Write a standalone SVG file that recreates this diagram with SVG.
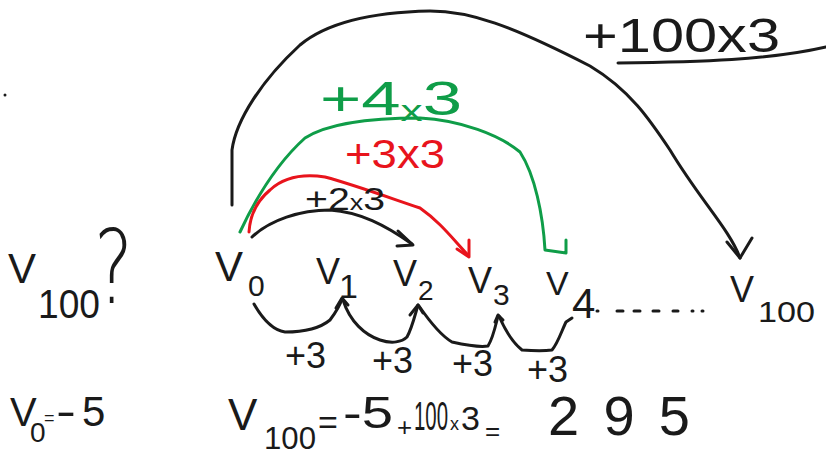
<svg xmlns="http://www.w3.org/2000/svg" width="826" height="457" viewBox="0 0 826 457">
<style>
text{font-family:"Liberation Sans","DejaVu Sans",sans-serif;fill:#1a1a1a}
.k{stroke:#1a1a1a}.g{stroke:#0f9d48}.r{stroke:#e8141c}
path{fill:none;stroke-width:3;stroke-linecap:round;stroke-linejoin:round}
.gt{fill:#0f9d48}.rt{fill:#e8141c}
.thin{font-family:"DejaVu Sans","Liberation Sans",sans-serif;font-weight:200}
</style>
<rect width="826" height="457" fill="#fff"/>
<circle cx="5" cy="95" r="1.5" fill="#1a1a1a"/>
<g id="connectors">
  <path class="k" d="M232,205 L232,150 C236,120 262,80 300,45 C330,20 380,12 430,11 C470,11 510,25 590,66 C630,90 650,120 670,150 C700,200 730,230 740,258"/>
  <path class="k" d="M727,242 L740,258 L752,238"/>
  <path class="g" d="M240,232 C255,200 275,165 305,138 C330,122 380,118 420,118 C460,120 500,135 520,152 C535,175 543,215 545,250 L566,253 L566,240"/>
  <path class="r" d="M249,232 C250,215 258,200 270,190 C285,176 305,174 325,177 C355,185 390,198 420,208 C440,222 452,238 468,255"/>
  <path class="r" d="M457,249 L469,257 L469,240"/>
  <path class="k" d="M252,237 C270,220 300,210 330,210 C360,212 385,225 412,244"/>
  <path class="k" d="M398,231 L413,245 L397,246"/>
  <path class="k" d="M254,304 C262,318 272,330 285,332 C300,332 318,330 330,320 C336,312 340,305 342,299"/>
  <path class="k" d="M336,308 L342,298 L348,305"/>
  <path class="k" d="M343,300 C350,322 365,335 380,340 C392,344 402,342 407,337 C412,328 415,315 418,305"/>
  <path class="k" d="M410,315 L418,305 L423,313"/>
  <path class="k" d="M419,306 C430,322 440,335 452,342 C470,346 482,347 488,346 C493,338 495,328 498,316"/>
  <path class="k" d="M495,322 L498,315 L503,320"/>
  <path class="k" d="M499,316 C505,330 512,342 522,350 C535,351 545,351 552,350 C558,343 562,330 566,322 L572,318"/>
  <path class="k" d="M618,63 C700,62 770,60 826,47"/>
</g>
<g id="labels">
  <text x="583" y="52" font-size="48" textLength="197" lengthAdjust="spacingAndGlyphs">+100x3</text>
  <text class="gt" x="320" y="115" font-size="48" textLength="142" lengthAdjust="spacingAndGlyphs">+4<tspan font-size="30" dy="6">x</tspan><tspan dy="-6">3</tspan></text>
  <text class="rt" x="345" y="168" font-size="40" textLength="100" lengthAdjust="spacingAndGlyphs">+3x3</text>
  <text x="305" y="210" font-size="32" textLength="80" lengthAdjust="spacingAndGlyphs">+2<tspan font-size="22">x</tspan>3</text>
  <text x="285" y="368" font-size="36">+3</text>
  <text x="372" y="373" font-size="36">+3</text>
  <text x="452" y="376" font-size="36">+3</text>
  <text x="527" y="382" font-size="36">+3</text>
</g>
<g id="v100q">
  <text x="8" y="283" font-size="42">V<tspan x="38" y="318" font-size="40" textLength="62" lengthAdjust="spacingAndGlyphs">100</tspan></text>
  <text class="thin" transform="translate(94,303) scale(1.05,1.45)" font-size="70">?</text>
</g>
<g id="v0"><text x="215" y="281" font-size="42">V<tspan x="248" y="296" font-size="30">0</tspan></text></g>
<g id="v1"><text x="316" y="284" font-size="36">V<tspan x="339" y="298" font-size="34">1</tspan></text></g>
<g id="v2"><text x="393" y="286" font-size="36">V<tspan x="418" y="300" font-size="28">2</tspan></text></g>
<g id="v3"><text x="468" y="293" font-size="36">V<tspan x="493" y="305" font-size="30">3</tspan></text></g>
<g id="v4"><text x="546" y="295" font-size="34">V<tspan x="572" y="318" font-size="42">4</tspan></text></g>
<g id="ellipsis">
  <path class="k" d="M597,311 L598,311 M617,311 L623,311 M634,311 L640,311 M653,311 L659,311 M673,311 L678,311 M692,311 L693,311 M702,311 L703,311"/>
</g>
<g id="v100"><text x="730" y="302" font-size="36">V<tspan x="758" y="322" font-size="30" textLength="57" lengthAdjust="spacingAndGlyphs">100</tspan></text></g>
<g id="eq1">
  <text x="10" y="426" font-size="40">V<tspan x="30" y="442" font-size="28">0</tspan><tspan x="44" y="424" font-size="18">=</tspan><tspan x="56" y="426" font-size="42" textLength="20" lengthAdjust="spacingAndGlyphs">-</tspan><tspan x="82" y="426" font-size="42">5</tspan></text>
</g>
<g id="eq2">
  <text x="228" y="430" font-size="44">V<tspan x="264" y="449" font-size="32" textLength="52" lengthAdjust="spacingAndGlyphs">100</tspan><tspan x="318" y="434" font-size="34">=</tspan><tspan x="343" y="428" font-size="44" textLength="50" lengthAdjust="spacingAndGlyphs">-5</tspan><tspan x="397" y="436" font-size="26">+</tspan><tspan x="414" y="430" font-size="40" textLength="34" lengthAdjust="spacingAndGlyphs">100</tspan><tspan x="450" y="430" font-size="18">x</tspan><tspan x="461" y="430" font-size="34">3</tspan><tspan x="485" y="440" font-size="26">=</tspan><tspan x="548" y="435" font-size="56" textLength="142" lengthAdjust="spacing">295</tspan></text>
</g>
</svg>
